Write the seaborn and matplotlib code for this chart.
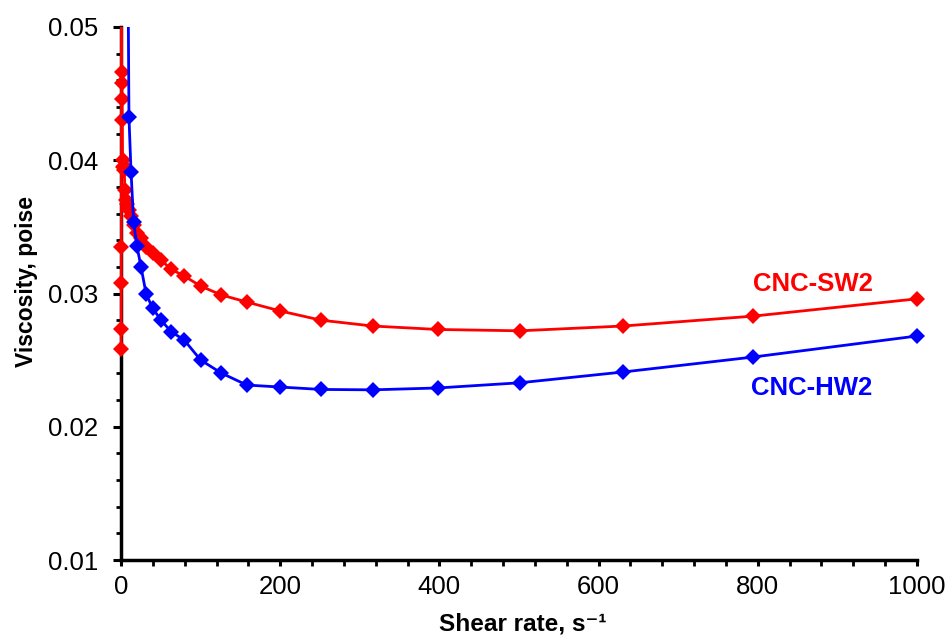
import matplotlib
matplotlib.use("Agg")
import matplotlib.pyplot as plt
from matplotlib.ticker import MultipleLocator, FormatStrFormatter
from matplotlib.patches import Rectangle
import numpy as np
import pandas as pd
import seaborn as sns

# Shear rates (s^-1), logarithmic steps, high to low
sw2_shear = [1000, 794, 631, 501, 398, 316, 251, 200, 158, 126, 100,
             79.4, 63.1, 50.1, 39.8, 31.6, 25.1, 20.0, 15.8, 12.6, 10.0,
             7.94, 6.31, 5.01, 3.98, 3.16, 2.51, 2.0, 1.58, 1.26, 1.0,
             0.794, 0.631, 0.501, 0.398, 0.316, 0.251]
sw2_visc = [0.0296, 0.0283, 0.02756, 0.0272, 0.0273, 0.02756, 0.0280,
            0.02869, 0.02936, 0.02989, 0.03056, 0.03131, 0.03182, 0.03251,
            0.03302, 0.03351, 0.03414, 0.03452, 0.03514, 0.03581, 0.03627,
            0.03672, 0.03702, 0.03777, 0.03927, 0.03959, 0.04002, 0.0395,
            0.0430, 0.0446, 0.0458, 0.0466, 0.0545, 0.0335, 0.0308, 0.0273,
            0.0258]

hw2_shear = [1000, 794, 631, 501, 398, 316, 251, 200, 158, 126, 100,
             79.4, 63.1, 50.1, 39.8, 31.6, 25.1, 20.0, 15.8, 12.6, 10.0,
             7.94, 6.31]
hw2_visc = [0.02681, 0.02523, 0.02411, 0.02330, 0.02291, 0.02277, 0.02280,
            0.02298, 0.02313, 0.02403, 0.02501, 0.02651, 0.02713, 0.02801,
            0.02889, 0.02996, 0.03201, 0.03356, 0.03539, 0.03914, 0.04322,
            0.0620, 0.0800]

series_names = ["CNC-SW2", "CNC-HW2"]
series_colors = {"CNC-SW2": "#FF0000", "CNC-HW2": "#0000FF"}

df = pd.concat([
    pd.DataFrame({"shear": sw2_shear, "visc": sw2_visc, "sample": "CNC-SW2"}),
    pd.DataFrame({"shear": hw2_shear, "visc": hw2_visc, "sample": "CNC-HW2"}),
], ignore_index=True)

sns.set_style("ticks")
plt.rcParams["font.family"] = ["Liberation Sans", "DejaVu Sans"]
plt.rcParams["text.color"] = "black"
plt.rcParams["axes.labelcolor"] = "black"
plt.rcParams["xtick.color"] = "black"
plt.rcParams["ytick.color"] = "black"

fig = plt.figure(figsize=(9.52, 6.42), dpi=100)
ax = fig.add_axes([121 / 952, 1 - 560 / 642, (917 - 121) / 952, (560 - 27) / 642])

sns.lineplot(data=df, x="shear", y="visc", hue="sample",
             hue_order=series_names, palette=series_colors,
             sort=False, estimator=None, marker="D", markersize=8,
             markeredgewidth=0, linewidth=2.0, legend=False, ax=ax)

ax.set_xlim(0, 1000)
ax.set_ylim(0.01, 0.05)

# let the end markers at x = 1000 show fully, but keep the top clipped;
# draw the curves above the axis spines
clip = Rectangle((-0.02, -0.02), 1.04, 1.02, transform=ax.transAxes,
                 facecolor="none", edgecolor="none")
for ln in ax.lines:
    ln.set_clip_path(clip)
    ln.set_zorder(3)

ax.xaxis.set_major_locator(MultipleLocator(200))
ax.xaxis.set_minor_locator(MultipleLocator(40))
ax.yaxis.set_major_locator(MultipleLocator(0.01))
ax.yaxis.set_minor_locator(MultipleLocator(0.002))
ax.yaxis.set_major_formatter(FormatStrFormatter("%.2f"))

for side in ("top", "right"):
    ax.spines[side].set_visible(False)
for side in ("left", "bottom"):
    ax.spines[side].set_linewidth(2.5)
    ax.spines[side].set_color("black")

ax.tick_params(axis="y", which="major", length=6, width=2.2, pad=10.5,
               labelsize=18.5, direction="out", color="black",
               labelcolor="black")
ax.tick_params(axis="y", which="minor", length=3.5, width=2.0,
               direction="out", color="black")
ax.tick_params(axis="x", which="major", length=4, width=2.2, pad=7,
               labelsize=18.5, direction="out", color="black",
               labelcolor="black")
ax.tick_params(axis="x", which="minor", length=4, width=2.0,
               direction="out", color="black")

ax.set_xlabel("Shear rate, s\u207b\u00b9", fontsize=17.6, fontweight="bold",
              color="black")
ax.set_ylabel("Viscosity, poise", fontsize=16.5, fontweight="bold",
              color="black")
ax.xaxis.set_label_coords(0.505, -0.099)
ax.yaxis.set_label_coords(-0.104, 0.523)

ax.text(869, 0.03019, "CNC-SW2", color=series_colors["CNC-SW2"],
        fontsize=18.5, fontweight="bold", ha="center", va="baseline")
ax.text(867, 0.02238, "CNC-HW2", color=series_colors["CNC-HW2"],
        fontsize=18.5, fontweight="bold", ha="center", va="baseline")

fig.savefig("out.png", dpi=100)
